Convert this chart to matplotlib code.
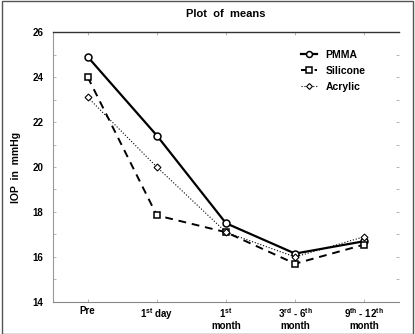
import matplotlib
matplotlib.use("Agg")
import matplotlib.pyplot as plt
from matplotlib.patches import Rectangle
from matplotlib.ticker import MultipleLocator

plt.rcParams['font.family'] = ['Liberation Sans', 'DejaVu Sans']
plt.rcParams['font.weight'] = 'bold'
plt.rcParams['mathtext.fontset'] = 'custom'
plt.rcParams['mathtext.rm'] = 'Liberation Sans:bold'
plt.rcParams['mathtext.bf'] = 'Liberation Sans:bold'
plt.rcParams['mathtext.default'] = 'bf'

labels = ["Pre", "1$^{st}$ day", "1$^{st}$\nmonth",
          "3$^{rd}$ - 6$^{th}$\nmonth", "9$^{th}$ - 12$^{th}$\nmonth"]
pmma = [24.9, 21.4, 17.5, 16.15, 16.7]
silicone = [24.0, 17.85, 17.1, 15.7, 16.55]
acrylic = [23.1, 20.0, 17.1, 16.0, 16.9]

x = list(range(1, len(labels) + 1))

fig = plt.figure(figsize=(4.15, 3.34), dpi=100)
ax = fig.add_axes([0.128, 0.096, 0.833, 0.808])

ax.plot(x, pmma, color='black', lw=1.6, ls='-', marker='o', ms=5,
        mfc='white', mec='black', mew=1.1, label='PMMA')
ax.plot(x, silicone, color='black', lw=1.4, ls=(0, (4, 3)), marker='s', ms=5,
        mfc='white', mec='black', mew=1.1, label='Silicone')
ax.plot(x, acrylic, color='black', lw=0.8, ls=':', marker='D', ms=3.5,
        mfc='white', mec='black', mew=0.8, label='Acrylic')

ax.set_xlim(0.5, 5.5)
ax.set_ylim(14, 26)
ax.set_xticks(x)
ax.set_xticklabels(labels, fontsize=7, linespacing=1.1)
ax.yaxis.set_major_locator(MultipleLocator(2))
ax.yaxis.set_minor_locator(MultipleLocator(1))
ax.tick_params(axis='both', which='both', direction='in', color='#aaaaaa',
               width=0.6, length=2, top=True, right=True)
ax.tick_params(axis='y', labelsize=7, pad=7)
ax.tick_params(axis='x', pad=3)
ax.spines['right'].set_visible(False)
ax.spines['top'].set_color('#333333')
ax.spines['top'].set_linewidth(1.0)
ax.spines['left'].set_color('#999999')
ax.spines['bottom'].set_color('#888888')
ax.spines['left'].set_linewidth(0.8)
ax.spines['bottom'].set_linewidth(0.8)

ax.set_title("Plot  of  means", fontsize=8, fontweight='bold', pad=11)
ax.set_ylabel("IOP  in  mmHg", fontsize=7.5, fontweight='bold', labelpad=8)

ax.legend(loc='upper right', bbox_to_anchor=(0.93, 0.97), frameon=False,
          fontsize=7.5, handlelength=1.5, labelspacing=0.6, handletextpad=0.8,
          markerscale=0.85)

fig.patches.append(Rectangle((0.004, 0.0), 0.992, 0.997, transform=fig.transFigure,
                             fill=False, edgecolor='#555555', lw=1.0))

fig.savefig("out.png", dpi=100)
